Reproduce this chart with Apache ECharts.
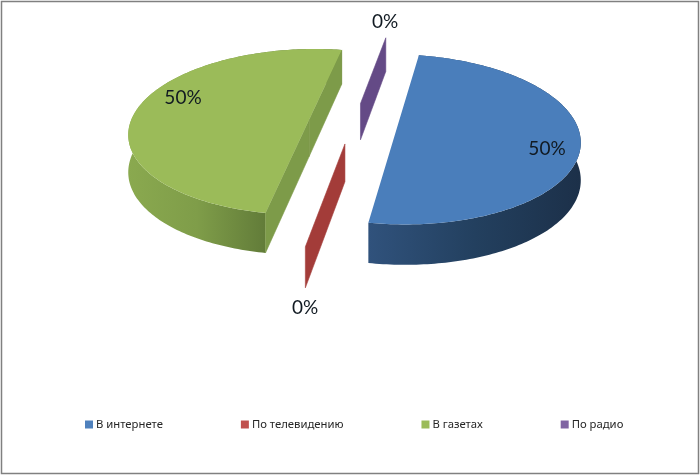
<!DOCTYPE html>
<html><head><meta charset="utf-8">
<style>html,body{margin:0;padding:0;background:#fff}#c{width:700px;height:475px}</style>
<script src="https://cdn.jsdelivr.net/npm/echarts@6/dist/echarts.min.js"></script>
</head><body><div id="c"></div>
<script>
const categories = ['В интернете','По телевидению','В газетах','По радио'];
const values = [50,0,50,0];

// palette + layout (not data)
const legendColors = ['#4f81bd','#c0504d','#9bbb59','#8064a2'];
const topColors = ['#4a7ebb','#a33c39','#9bbb59','#644a86'];
const wallStops = [['#30527c','#23405f','#1c3049'],['#a33c39','#a33c39','#a33c39'],['#8aa94f','#7f9d49','#627c39'],['#644a86','#644a86','#644a86']];
const flatWallColors = ['#2e4d74','#a33c39','#7d9b49','#644a86'];
const labelPositions = [[547,149],[305,308],[183,98],[385,22]];
const firstAngle = 10, explode = 0.25;
const P = {cx:353, cy:123, a:179, b:82, p:0.15, depth:37, dp:0.08};

const total = values.reduce((s,v)=>s+v,0);
const rad = d => d*Math.PI/180;
function project(u,v,down){
  const w = 1+P.p*v;
  return [P.cx+P.a*u/w, P.cy-P.b*v/w+(down?P.depth/(1+P.dp*v):0)];
}
let acc = firstAngle;
const slices = values.map(v=>{
  const start=acc, end=acc+v/total*360; acc=end;
  const mid=rad((start+end)/2);
  return {start,end,ox:explode*Math.sin(mid),oy:explode*Math.cos(mid)};
});
function arcPts(s,down,onlyFront){
  const pts=[], n=Math.max(1,Math.round(s.end-s.start));
  for(let i=0;i<=n;i++){
    const t=rad(s.start+(s.end-s.start)*i/n);
    if(onlyFront && Math.cos(t)>0) continue;
    pts.push(project(s.ox+Math.sin(t),s.oy+Math.cos(t),down));
  }
  return pts;
}
function radial(s,ang){
  const t=rad(ang);
  const c=[s.ox,s.oy], o=[s.ox+Math.sin(t),s.oy+Math.cos(t)];
  return [project(c[0],c[1],false),project(o[0],o[1],false),project(o[0],o[1],true),project(c[0],c[1],true)];
}
function poly(points,fill,z,seam){
  return {type:'polygon',z2:z,shape:{points},style:seam?{fill,stroke:fill,lineWidth:0.6}:{fill,stroke:null}};
}
function render(i){
  return function(params,api){
    const s=slices[i], children=[];
    if(s.end>s.start){
      const top=arcPts(s,false), bot=arcPts(s,true);
      const xs=arcPts(s,true,true).map(p=>p[0]);
      const x0=Math.min.apply(null,xs), x1=Math.max.apply(null,xs);
      const fill=new echarts.graphic.LinearGradient(x0,0,x1,0,[
        {offset:0,color:wallStops[i][0]},{offset:0.5,color:wallStops[i][1]},{offset:1,color:wallStops[i][2]}],true);
      children.push(poly(top.concat(bot.slice().reverse()),fill,1));
      children.push(poly([project(s.ox,s.oy,false)].concat(top),topColors[i],3));
    }
    // a radial wall is seen only when its outward normal points to the viewer
    if(Math.sin(rad(s.start))<0) children.push(poly(radial(s,s.start),flatWallColors[i],2,true));
    if(-Math.sin(rad(s.end))<0) children.push(poly(radial(s,s.end),flatWallColors[i],2,true));
    const pct=Math.round(api.value(0)/total*100)+'%';
    children.push({type:'text',z2:10,style:{x:labelPositions[i][0],y:labelPositions[i][1],text:pct,
      align:'center',verticalAlign:'middle',fontFamily:'Lato, "Open Sans", sans-serif',fontSize:19,fill:'#111a22'}});
    return {type:'group',children};
  };
}
const chart=echarts.init(document.getElementById('c'),null,{renderer:'canvas'});
chart.setOption({
  animation:false,
  backgroundColor:'#fff',
  graphic:[{type:'rect',z:-1,shape:{x:1.5,y:1.5,width:697,height:472},style:{fill:'none',stroke:'#808080',lineWidth:1.5},silent:true}],
  legend:{left:80,top:414,itemWidth:8,itemHeight:8,itemGap:78,icon:'rect',
    textStyle:{fontFamily:'"Noto Sans", "Open Sans", sans-serif',fontSize:11.3,color:'#262626',padding:[0,0,0,-2]},
    data:categories.map((n,i)=>({name:n,itemStyle:{color:legendColors[i]}}))},
  series:categories.map((n,i)=>({
    type:'custom',name:n,coordinateSystem:'none',silent:true,
    itemStyle:{color:legendColors[i]},
    data:[[values[i]]],renderItem:render(i)
  }))
});
</script></body></html>
